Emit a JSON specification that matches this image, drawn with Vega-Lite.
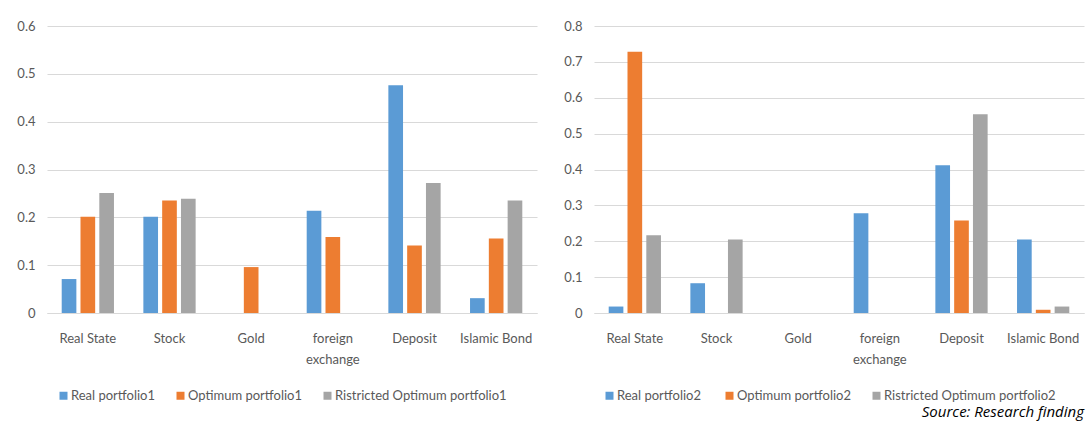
{
  "$schema": "https://vega.github.io/schema/vega-lite/v6.json",
  "padding": {"left": 16, "top": 20, "right": 4, "bottom": 4},
  "background": "white",
  "datasets": {
    "p1": [
      {"asset": "Real State", "series": "Real portfolio1", "value": 0.071},
      {"asset": "Real State", "series": "Optimum portfolio1", "value": 0.201},
      {"asset": "Real State", "series": "Ristricted Optimum portfolio1", "value": 0.251},
      {"asset": "Stock", "series": "Real portfolio1", "value": 0.201},
      {"asset": "Stock", "series": "Optimum portfolio1", "value": 0.235},
      {"asset": "Stock", "series": "Ristricted Optimum portfolio1", "value": 0.239},
      {"asset": "Gold", "series": "Real portfolio1", "value": 0},
      {"asset": "Gold", "series": "Optimum portfolio1", "value": 0.096},
      {"asset": "Gold", "series": "Ristricted Optimum portfolio1", "value": 0},
      {"asset": "foreign exchange", "series": "Real portfolio1", "value": 0.214},
      {"asset": "foreign exchange", "series": "Optimum portfolio1", "value": 0.159},
      {"asset": "foreign exchange", "series": "Ristricted Optimum portfolio1", "value": 0},
      {"asset": "Deposit", "series": "Real portfolio1", "value": 0.476},
      {"asset": "Deposit", "series": "Optimum portfolio1", "value": 0.141},
      {"asset": "Deposit", "series": "Ristricted Optimum portfolio1", "value": 0.272},
      {"asset": "Islamic Bond", "series": "Real portfolio1", "value": 0.031},
      {"asset": "Islamic Bond", "series": "Optimum portfolio1", "value": 0.156},
      {"asset": "Islamic Bond", "series": "Ristricted Optimum portfolio1", "value": 0.235}
    ],
    "p2": [
      {"asset": "Real State", "series": "Real  portfolio2", "value": 0.018},
      {"asset": "Real State", "series": "Optimum portfolio2", "value": 0.728},
      {"asset": "Real State", "series": "Ristricted Optimum portfolio2", "value": 0.217},
      {"asset": "Stock", "series": "Real  portfolio2", "value": 0.083},
      {"asset": "Stock", "series": "Optimum portfolio2", "value": 0},
      {"asset": "Stock", "series": "Ristricted Optimum portfolio2", "value": 0.205},
      {"asset": "Gold", "series": "Real  portfolio2", "value": 0},
      {"asset": "Gold", "series": "Optimum portfolio2", "value": 0},
      {"asset": "Gold", "series": "Ristricted Optimum portfolio2", "value": 0},
      {"asset": "foreign exchange", "series": "Real  portfolio2", "value": 0.278},
      {"asset": "foreign exchange", "series": "Optimum portfolio2", "value": 0},
      {"asset": "foreign exchange", "series": "Ristricted Optimum portfolio2", "value": 0},
      {"asset": "Deposit", "series": "Real  portfolio2", "value": 0.412},
      {"asset": "Deposit", "series": "Optimum portfolio2", "value": 0.258},
      {"asset": "Deposit", "series": "Ristricted Optimum portfolio2", "value": 0.554},
      {"asset": "Islamic Bond", "series": "Real  portfolio2", "value": 0.205},
      {"asset": "Islamic Bond", "series": "Optimum portfolio2", "value": 0.009},
      {"asset": "Islamic Bond", "series": "Ristricted Optimum portfolio2", "value": 0.018}
    ]
  },
  "title": {
    "text": "Source: Research finding",
    "orient": "bottom",
    "anchor": "end",
    "font": "Open Sans",
    "fontStyle": "italic",
    "fontWeight": "normal",
    "fontSize": 15,
    "color": "#000000",
    "offset": 2
  },
  "spacing": 26,
  "hconcat": [
    {
      "width": 490,
      "height": 287,
      "data": {"name": "p1"},
      "mark": {"type": "bar"},
      "encoding": {
        "x": {
          "field": "asset", "type": "nominal",
          "sort": ["Real State", "Stock", "Gold", "foreign exchange", "Deposit", "Islamic Bond"],
          "scale": {"paddingInner": 0.36, "paddingOuter": 0.18},
          "axis": {"title": null, "labelAngle": 0, "ticks": false, "labelPadding": 19,
                   "labelExpr": "datum.label == 'foreign exchange' ? ['foreign', 'exchange'] : datum.label"}
        },
        "xOffset": {
          "field": "series",
          "sort": ["Real portfolio1", "Optimum portfolio1", "Ristricted Optimum portfolio1"],
          "scale": {"paddingInner": 0.22}
        },
        "y": {
          "field": "value", "type": "quantitative",
          "scale": {"domain": [0, 0.6]},
          "axis": {"title": null, "values": [0, 0.1, 0.2, 0.3, 0.4, 0.5, 0.6], "format": "~g", "domain": false, "ticks": false, "labelPadding": 12}
        },
        "color": {
          "field": "series", "type": "nominal",
          "scale": {"domain": ["Real portfolio1", "Optimum portfolio1", "Ristricted Optimum portfolio1"],
                    "range": ["#5B9BD5", "#ED7D31", "#A5A5A5"]},
          "legend": {"title": null, "orient": "none", "direction": "horizontal", "legendX": 10, "legendY": 363}
        }
      }
    },
    {
      "width": 490,
      "height": 287,
      "data": {"name": "p2"},
      "mark": {"type": "bar"},
      "encoding": {
        "x": {
          "field": "asset", "type": "nominal",
          "sort": ["Real State", "Stock", "Gold", "foreign exchange", "Deposit", "Islamic Bond"],
          "scale": {"paddingInner": 0.36, "paddingOuter": 0.18},
          "axis": {"title": null, "labelAngle": 0, "ticks": false, "labelPadding": 19,
                   "labelExpr": "datum.label == 'foreign exchange' ? ['foreign', 'exchange'] : datum.label"}
        },
        "xOffset": {
          "field": "series",
          "sort": ["Real  portfolio2", "Optimum portfolio2", "Ristricted Optimum portfolio2"],
          "scale": {"paddingInner": 0.22}
        },
        "y": {
          "field": "value", "type": "quantitative",
          "scale": {"domain": [0, 0.8]},
          "axis": {"title": null, "values": [0, 0.1, 0.2, 0.3, 0.4, 0.5, 0.6, 0.7, 0.8], "format": "~g", "domain": false, "ticks": false, "labelPadding": 12}
        },
        "color": {
          "field": "series", "type": "nominal",
          "scale": {"domain": ["Real  portfolio2", "Optimum portfolio2", "Ristricted Optimum portfolio2"],
                    "range": ["#5B9BD5", "#ED7D31", "#A5A5A5"]},
          "legend": {"title": null, "orient": "none", "direction": "horizontal", "legendX": 9, "legendY": 363}
        }
      }
    }
  ],
  "resolve": {
    "scale": {"color": "independent", "y": "independent", "x": "independent", "xOffset": "independent"},
    "legend": {"color": "independent"}
  },
  "config": {
    "view": {"stroke": null},
    "font": "Lato",
    "axis": {
      "labelFont": "Lato", "labelFontSize": 13, "labelColor": "#595959",
      "gridColor": "#D9D9D9", "gridWidth": 1, "domainColor": "#D9D9D9", "domainWidth": 1,
      "labelLineHeight": 21
    },
    "axisX": {"grid": false},
    "legend": {
      "labelFont": "Lato", "labelFontSize": 13, "labelColor": "#595959", "labelLimit": 400,
      "symbolType": "square", "symbolSize": 64, "symbolStrokeWidth": 0,
      "columnPadding": 18, "symbolOffset": 0, "labelOffset": 1
    }
  }
}
